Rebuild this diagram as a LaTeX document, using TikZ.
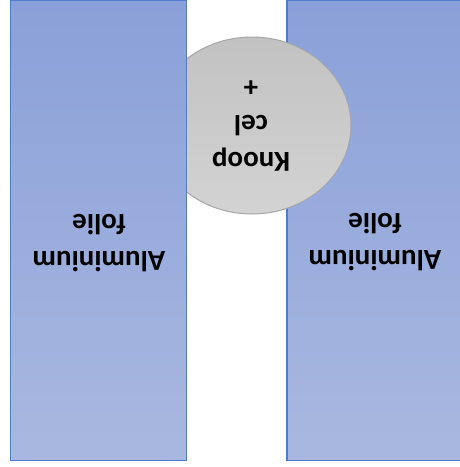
\documentclass[tikz,border=0pt]{standalone}
\usepackage{fontspec}
\setmainfont{Carlito}
\definecolor{rtop}{HTML}{8AA0D8}
\definecolor{rbot}{HTML}{A9B8E0}
\definecolor{rborder}{HTML}{4F7BD0}
\definecolor{ctop}{HTML}{C2C2C2}
\definecolor{cbot}{HTML}{D3D3D3}
\definecolor{cborder}{HTML}{A6A6A6}
\begin{document}
\begin{tikzpicture}[x=1pt,y=-1pt,
  foil/.style={draw=rborder,line width=1.2pt,top color=rtop,bottom color=rbot},
  cell/.style={draw=cborder,line width=1pt,top color=ctop,bottom color=cbot},
  lbl/.style={font=\fontsize{29}{37}\selectfont\bfseries,align=center,rotate=180,text=black}]
\useasboundingbox (0,0) rectangle (460,467);
\path[foil] (287,0.6) rectangle (463.5,460.5);
\path[cell] (252,125.5) ellipse [x radius=99,y radius=88.5];
\path[foil] (10.6,0.6) rectangle (186.5,460.5);
\node[lbl] (lt) at (99,243) {Aluminium\\folie};
\node[lbl] (rt) at (375,242) {Aluminium\\folie};
\node[lbl] (ct) at (251,125) {Knoop\\cel\\+};
\end{tikzpicture}
\end{document}
